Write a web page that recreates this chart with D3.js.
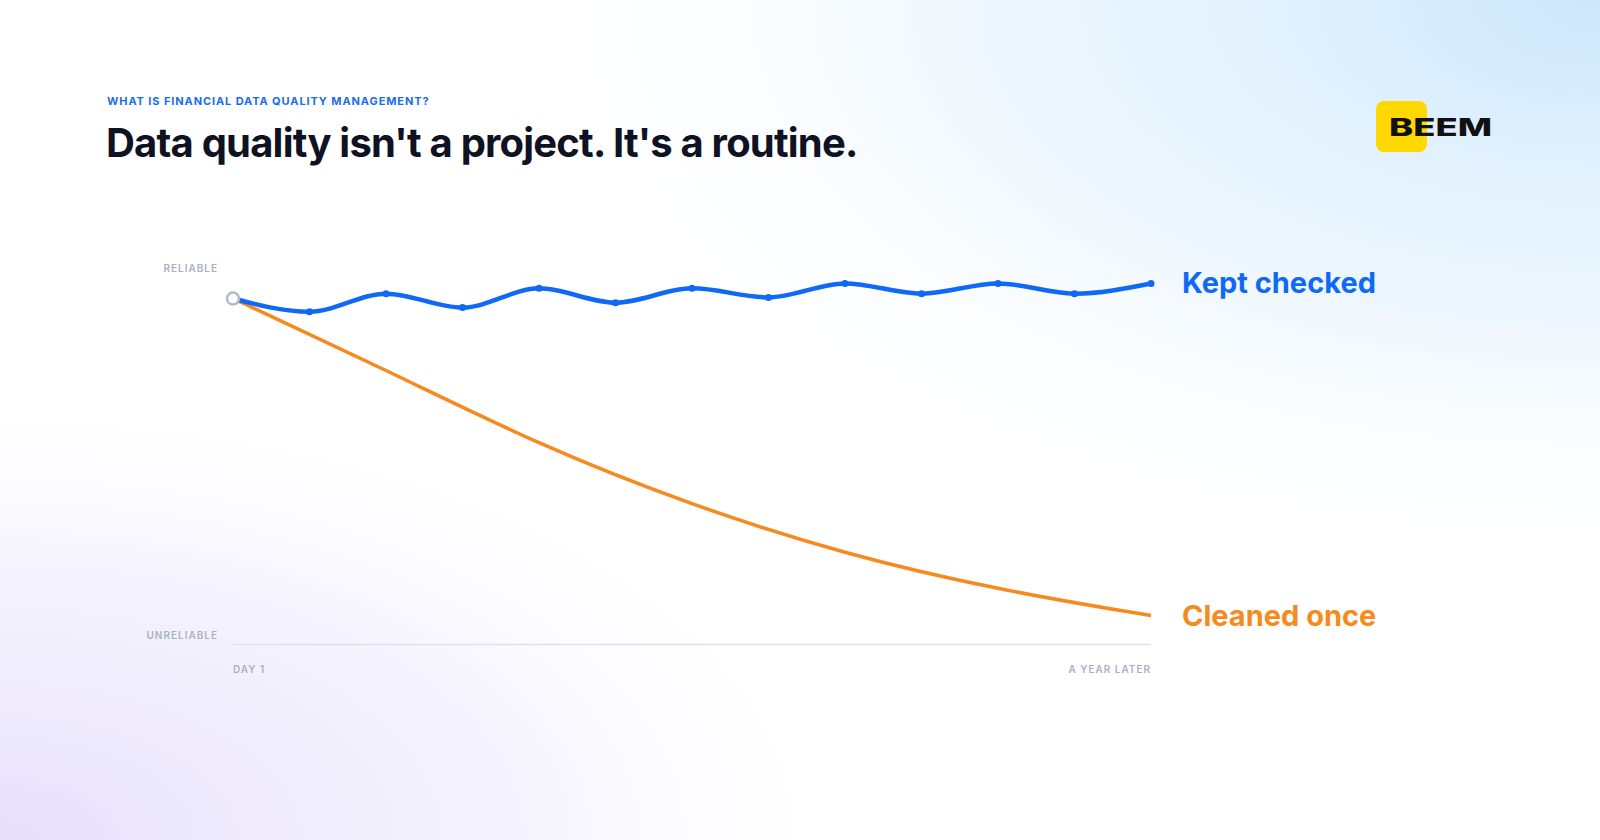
<!DOCTYPE html>
<html><head><meta charset="utf-8">
<script src="https://cdn.jsdelivr.net/npm/d3@7"></script>
<style>body{margin:0;background:#fff}svg{display:block;font-family:Inter,"Open Sans",sans-serif}</style>
</head><body>
<script>
// values on a 0 (unreliable) .. 100 (reliable) scale, 13 checkpoints over a year
var steps = d3.range(13);
var keptChecked = [91.9, 88.4, 93.2, 89.5, 94.6, 90.8, 94.6, 92.2, 95.9, 93.2, 95.9, 93.2, 95.9];
var cleanedSteps = [0, 2, 4, 6, 8, 10, 12];
var cleanedOnce = [91.9, 73.0, 53.0, 37.0, 24.0, 14.6, 7.8];
var xLabels = ["DAY 1", "A YEAR LATER"];
var yLabels = ["UNRELIABLE", "RELIABLE"];

var width = 1600, height = 840;
var svg = d3.select("body").append("svg").attr("width", width).attr("height", height);
var defs = svg.append("defs");
var g1 = defs.append("radialGradient").attr("id", "blue").attr("cx", 1).attr("cy", 0).attr("r", 0.7);
g1.append("stop").attr("offset", 0).attr("stop-color", "#cde7fb");
g1.append("stop").attr("offset", 0.55).attr("stop-color", "#e3f2fd").attr("stop-opacity", 0.6);
g1.append("stop").attr("offset", 1).attr("stop-color", "#fff").attr("stop-opacity", 0);
var g2 = defs.append("radialGradient").attr("id", "lav").attr("cx", 0).attr("cy", 1).attr("r", 0.55);
g2.append("stop").attr("offset", 0).attr("stop-color", "#e6e0fb");
g2.append("stop").attr("offset", 0.6).attr("stop-color", "#efecfc").attr("stop-opacity", 0.6);
g2.append("stop").attr("offset", 1).attr("stop-color", "#fff").attr("stop-opacity", 0);
svg.append("rect").attr("width", width).attr("height", height).attr("fill", "#fff");
svg.append("rect").attr("width", width).attr("height", height).attr("fill", "url(#blue)");
svg.append("rect").attr("width", width).attr("height", height).attr("fill", "url(#lav)");

svg.append("text").attr("x", 107).attr("y", 105).attr("fill", "#1a6cf0")
  .attr("font-size", 11).attr("font-weight", 700).attr("letter-spacing", 0.9)
  .text("WHAT IS FINANCIAL DATA QUALITY MANAGEMENT?");
svg.append("text").attr("x", 106).attr("y", 157).attr("fill", "#0f1222")
  .attr("font-size", 40).attr("font-weight", 700).attr("letter-spacing", -0.8)
  .text("Data quality isn't a project. It's a routine.");

// logo
svg.append("rect").attr("x", 1376).attr("y", 101).attr("width", 51).attr("height", 51).attr("rx", 8).attr("fill", "#ffd800");
svg.append("text").attr("x", 1389).attr("y", 136).attr("fill", "#111").attr("font-size", 24)
  .attr("font-weight", 800).attr("textLength", 103).attr("lengthAdjust", "spacingAndGlyphs").text("BEEM");

var x = d3.scaleLinear().domain([0, 12]).range([233, 1151]);
var y = d3.scaleLinear().domain([0, 100]).range([645, 268]);

svg.append("line").attr("x1", x(0)).attr("x2", x(12)).attr("y1", y(0) - 0.5).attr("y2", y(0) - 0.5)
  .attr("stroke", "#dfe2ea").attr("stroke-width", 1.5);

var lab = { fill: "#a9b0c4", size: 10 };
svg.selectAll(".yl").data(yLabels).enter().append("text")
  .attr("x", 218).attr("y", function(d, i) { return i ? y(100) + 4 : y(0) - 6; })
  .attr("text-anchor", "end").attr("fill", lab.fill).attr("font-size", lab.size)
  .attr("font-weight", 600).attr("letter-spacing", 1).text(function(d) { return d; });
svg.selectAll(".xl").data(xLabels).enter().append("text")
  .attr("x", function(d, i) { return i ? x(12) : x(0); }).attr("y", y(0) + 28)
  .attr("text-anchor", function(d, i) { return i ? "end" : "start"; })
  .attr("fill", lab.fill).attr("font-size", lab.size).attr("font-weight", 600).attr("letter-spacing", 1)
  .text(function(d) { return d; });

var line = d3.line().curve(d3.curveMonotoneX);
svg.append("path").attr("fill", "none").attr("stroke", "#f78a1d").attr("stroke-width", 3.5)
  .attr("d", d3.line().curve(d3.curveBasis)(cleanedSteps.map(function(s, i) { return [x(s), y(cleanedOnce[i])]; })));
svg.append("path").attr("fill", "none").attr("stroke", "#0f69f5").attr("stroke-width", 4.5)
  .attr("d", line(steps.map(function(s) { return [x(s), y(keptChecked[s])]; })));
svg.selectAll(".pt").data(steps.slice(1)).enter().append("circle")
  .attr("cx", function(d) { return x(d); }).attr("cy", function(d) { return y(keptChecked[d]); })
  .attr("r", 3.5).attr("fill", "#0f69f5");
svg.append("circle").attr("cx", x(0)).attr("cy", y(keptChecked[0])).attr("r", 6)
  .attr("fill", "#fff").attr("stroke", "#b3b9cc").attr("stroke-width", 2.5);

svg.append("text").attr("x", 1182).attr("y", y(keptChecked[12]) + 10).attr("fill", "#0f69f5")
  .attr("font-size", 29).attr("font-weight", 700).text("Kept checked");
svg.append("text").attr("x", 1182).attr("y", y(cleanedOnce[6]) + 10).attr("fill", "#f78a1d")
  .attr("font-size", 29).attr("font-weight", 700).text("Cleaned once");
</script>
</body></html>
